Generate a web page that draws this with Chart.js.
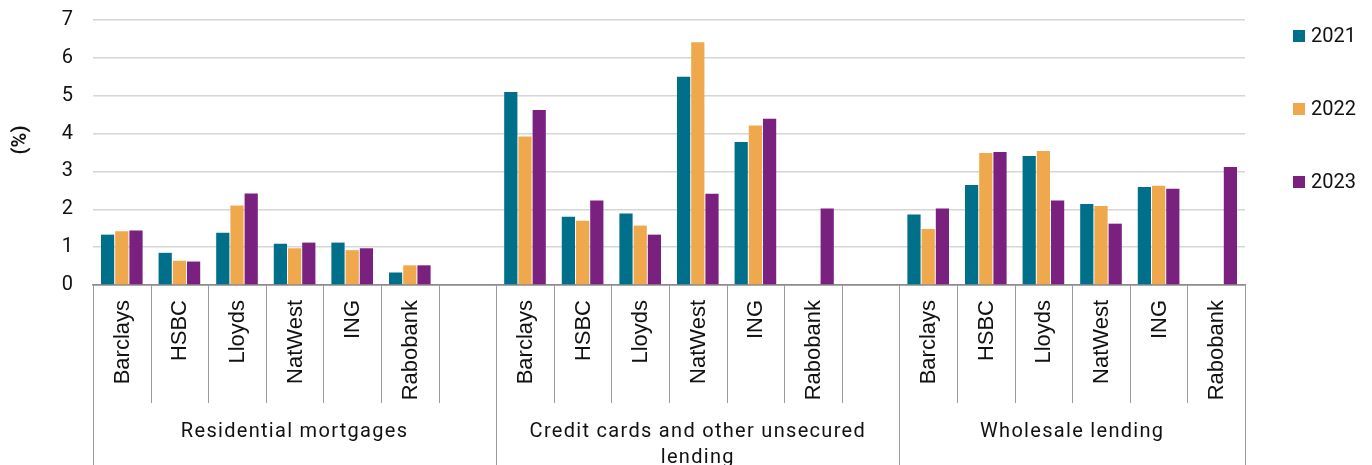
<!DOCTYPE html>
<html lang="en">
<head>
  <meta charset="UTF-8">
  <title>Impairment rates by bank</title>
  <script src="https://cdn.jsdelivr.net/npm/chart.js"></script>
  <style>
    html, body { margin: 0; padding: 0; background: #fff; }
  </style>
</head>
<body>
  <canvas id="grafico" width="1372" height="465"></canvas>

  <script>
    // categorias (espaço vazio entre os grupos)
    const bancos = [
      'Barclays', 'HSBC', 'Lloyds', 'NatWest', 'ING', 'Rabobank', '',
      'Barclays', 'HSBC', 'Lloyds', 'NatWest', 'ING', 'Rabobank', '',
      'Barclays', 'HSBC', 'Lloyds', 'NatWest', 'ING', 'Rabobank'
    ];
    const grupos = [['Residential mortgages'], ['Credit cards and other unsecured', 'lending'], ['Wholesale lending']];
    const tamanhoGrupos = [7, 7, 6];

    const anos = ['2021', '2022', '2023'];
    const valores2021 = [1.33, 0.85, 1.38, 1.09, 1.12, 0.33, null, 5.10, 1.80, 1.89, 5.50, 3.78, null, null, 1.86, 2.64, 3.41, 2.14, 2.59, null];
    const valores2022 = [1.42, 0.64, 2.10, 0.97, 0.92, 0.52, null, 3.92, 1.70, 1.57, 6.41, 4.21, null, null, 1.48, 3.49, 3.54, 2.09, 2.62, null];
    const valores2023 = [1.44, 0.62, 2.42, 1.12, 0.97, 0.52, null, 4.62, 2.23, 1.33, 2.41, 4.39, 2.02, null, 2.02, 3.51, 2.23, 1.62, 2.54, 3.12];
    const cores = ['#006f8a', '#f0a84c', '#7a2180'];

    const eixoX = {
      id: 'eixoX',
      afterDraw(chart) {
        const ctx = chart.ctx;
        const x = chart.scales.x;
        const area = chart.chartArea;
        const passo = x.getPixelForValue(1) - x.getPixelForValue(0);
        const borda = i => x.getPixelForValue(0) - passo / 2 + i * passo;

        // linhas de divisão
        const limites = [0];
        tamanhoGrupos.forEach(n => limites.push(limites[limites.length - 1] + n));
        ctx.save();
        ctx.strokeStyle = '#9a9a9a';
        ctx.lineWidth = 1;
        for (let i = 0; i <= bancos.length; i++) {
          const px = Math.round(borda(i)) + 0.5;
          ctx.beginPath();
          ctx.moveTo(px, area.bottom);
          ctx.lineTo(px, limites.includes(i) ? chart.height : 403);
          ctx.stroke();
        }

        // nomes dos bancos
        ctx.fillStyle = '#111';
        ctx.font = '22px "Liberation Sans", Arial, sans-serif';
        ctx.textAlign = 'right';
        ctx.textBaseline = 'middle';
        bancos.forEach((b, i) => {
          if (!b) return;
          ctx.save();
          ctx.translate(x.getPixelForValue(i) + 1, area.bottom + 15);
          ctx.rotate(-Math.PI / 2);
          ctx.fillText(b, 0, 0);
          ctx.restore();
        });

        // nomes dos grupos
        ctx.font = '20px Roboto, sans-serif';
        ctx.letterSpacing = '1.3px';
        ctx.textAlign = 'center';
        grupos.forEach((linhas, g) => {
          const centro = (borda(limites[g]) + borda(limites[g + 1])) / 2;
          linhas.forEach((l, k) => ctx.fillText(l, centro, 432 + k * 26));
        });
        ctx.letterSpacing = '0px';

        // título do eixo y
        ctx.font = 'bold 20px Roboto, sans-serif';
        ctx.save();
        ctx.translate(21, 140);
        ctx.rotate(-Math.PI / 2);
        ctx.fillText('(%)', 0, 0);
        ctx.restore();

        // legenda
        ctx.font = '20px Roboto, sans-serif';
        ctx.textAlign = 'left';
        chart.data.datasets.forEach((d, i) => {
          const cy = 36 + i * 73;
          ctx.fillStyle = d.backgroundColor;
          ctx.fillRect(1293, cy - 6, 12, 12);
          ctx.fillStyle = '#111';
          ctx.fillText(d.label, 1311, cy + 1);
        });
        ctx.restore();
      }
    };

    new Chart(document.getElementById('grafico'), {
      type: 'bar',
      data: {
        labels: bancos,
        datasets: [valores2021, valores2022, valores2023].map((v, i) => ({
          label: anos[i],
          data: v,
          backgroundColor: cores[i],
          borderWidth: 0,
          categoryPercentage: 0.74,
          barPercentage: 0.93
        }))
      },
      options: {
        responsive: false,
        animation: false,
        layout: { padding: { top: 20, right: 127, left: 0, bottom: 0 } },
        plugins: { legend: { display: false }, tooltip: { enabled: false } },
        scales: {
          x: {
            grid: { display: false },
            border: { display: true, color: '#8c8c8c', width: 1.5 },
            ticks: { display: false },
            afterFit(s) { s.height = 180; }
          },
          y: {
            min: 0,
            max: 7,
            ticks: { stepSize: 1, padding: 20, color: '#111', font: { family: 'Roboto', size: 20 } },
            grid: {
              drawTicks: false,
              lineWidth: 1.5,
              color: c => c.tick.value === 0 ? '#8c8c8c' : '#d6d6d6'
            },
            border: { display: false },
            afterFit(s) {
              s.width = 93;
              s.paddingTop = 0;
              s.paddingBottom = 0;
            }
          }
        }
      },
      plugins: [eixoX]
    });
  </script>
</body>
</html>
